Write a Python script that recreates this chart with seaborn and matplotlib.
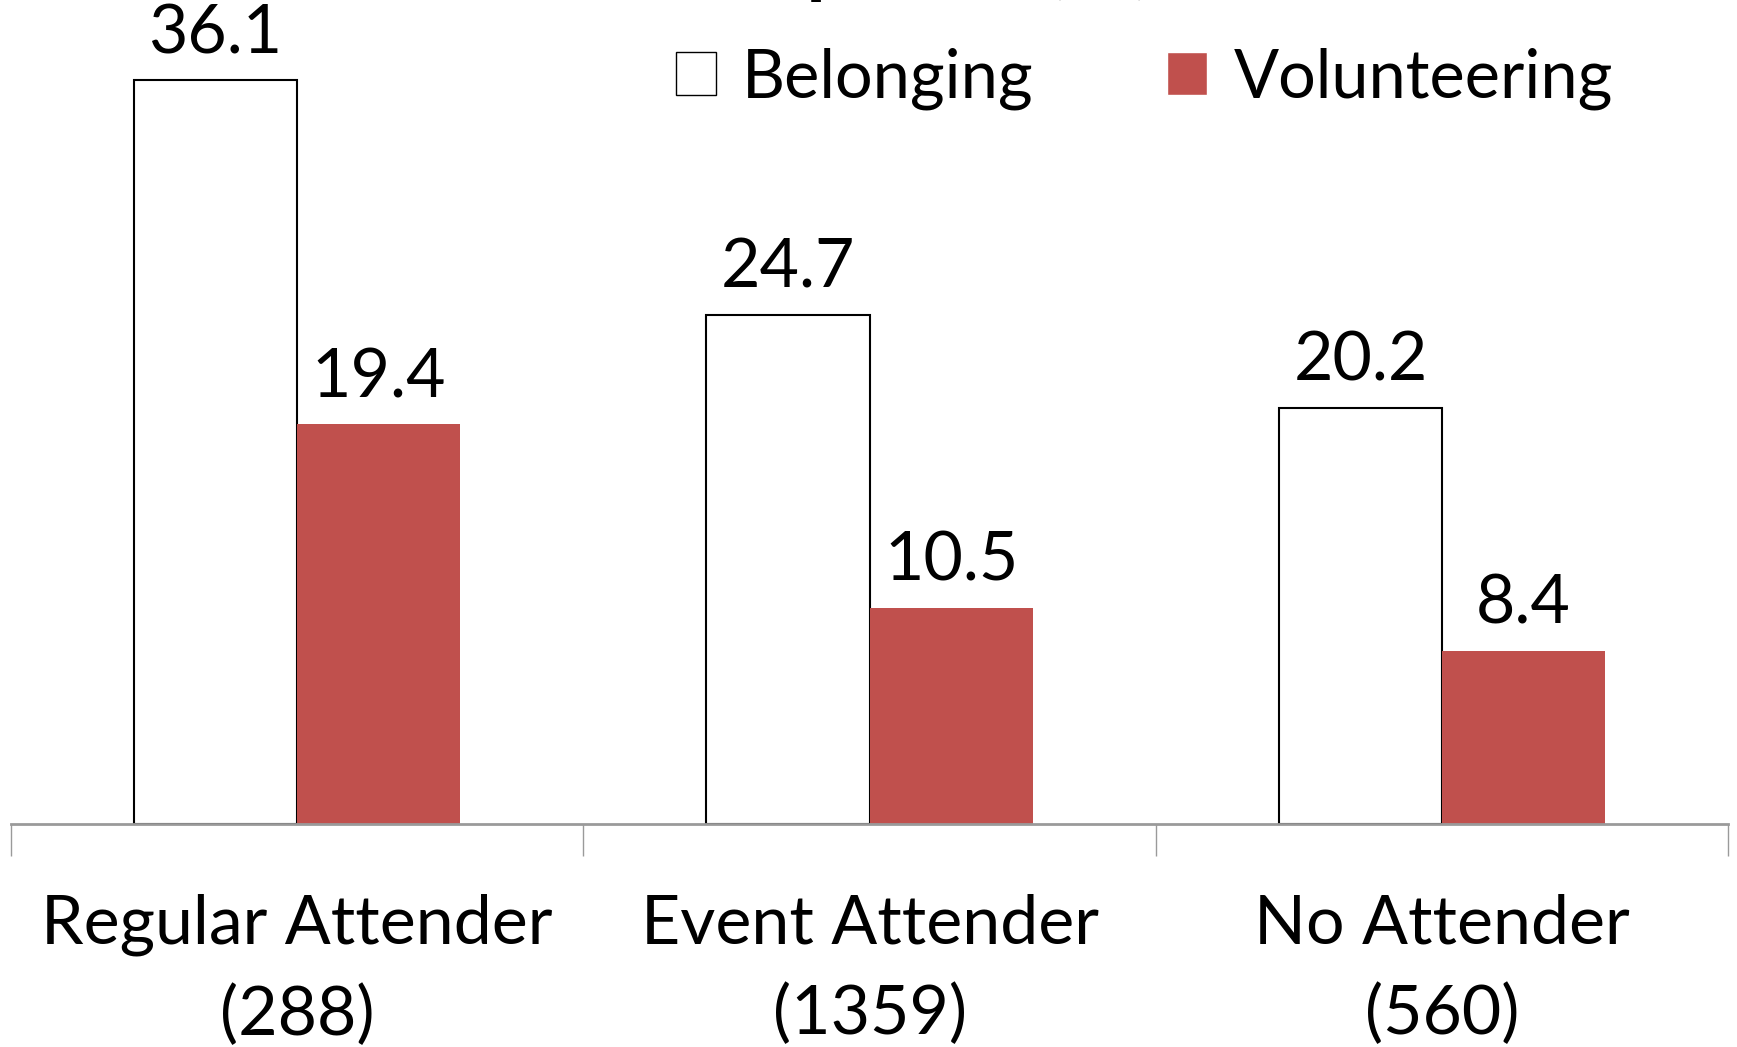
import numpy as np
import pandas as pd
import seaborn as sns
from matplotlib import pyplot as plt

groups = ['Regular Attender\n(288)', 'Event Attender\n(1359)', 'No Attender\n(560)']
belonging = [36.1, 24.7, 20.2]
volunteering = [19.4, 10.5, 8.4]
measures = ['Belonging', 'Volunteering']

df = pd.DataFrame({
    'group': groups * 2,
    'measure': ['Belonging'] * 3 + ['Volunteering'] * 3,
    'value': belonging + volunteering,
})

sns.set_style('white')
plt.rcParams['font.family'] = ['Lato', 'DejaVu Sans']
plt.rcParams['text.color'] = 'black'
plt.rcParams['xtick.color'] = 'black'

fig = plt.figure(figsize=(17.37, 10.47), dpi=100)
ax = fig.add_axes([0.0063, 0.213, 0.9887, 0.787])

sns.barplot(data=df, x='group', y='value', hue='measure', order=groups, hue_order=measures,
            palette=['white', '#C0504D'], width=0.57, gap=0, ax=ax, saturation=1, errorbar=None)

# edges: black outline on white bars only
for i, cont in enumerate(ax.containers):
    for p in cont:
        if i == 0:
            p.set_edgecolor('black')
            p.set_linewidth(1.5)
        else:
            p.set_linewidth(0)
    ax.bar_label(cont, fmt='%.1f', padding=11, fontsize=49, color='black')

ax.set_ylim(0, 40)
ax.set_xlim(-0.5, 2.5)
ax.set_ylabel('')
ax.set_xlabel('')
ax.set_yticks([])
for s in ['top', 'right', 'left']:
    ax.spines[s].set_visible(False)
ax.spines['bottom'].set_color('#9a9a9a')
ax.spines['bottom'].set_linewidth(2)

ax.set_xticks([-0.5, 0.5, 1.5, 2.5])
ax.set_xticklabels([])
ax.tick_params(axis='x', which='major', bottom=True, length=23, width=1, color='#9a9a9a')
ax.set_xticks([0, 1, 2], minor=True)
ax.set_xticklabels(groups, minor=True, fontsize=49, linespacing=1.55, color='black')
ax.tick_params(axis='x', which='minor', bottom=True, length=0, pad=50)

leg = ax.legend(loc='center', bbox_to_anchor=(0.66, 0.905), ncol=2, frameon=False,
                fontsize=48, handlelength=0.6, handleheight=0.6, handletextpad=0.4,
                columnspacing=2.0)
leg.legend_handles[0].set_edgecolor('black')

fig.text(0.5, 1.0 + 12 / 1047, 'Participation (%)', ha='center', va='baseline',
         fontsize=56, fontweight='bold')

fig.savefig('out.png', dpi=100)
